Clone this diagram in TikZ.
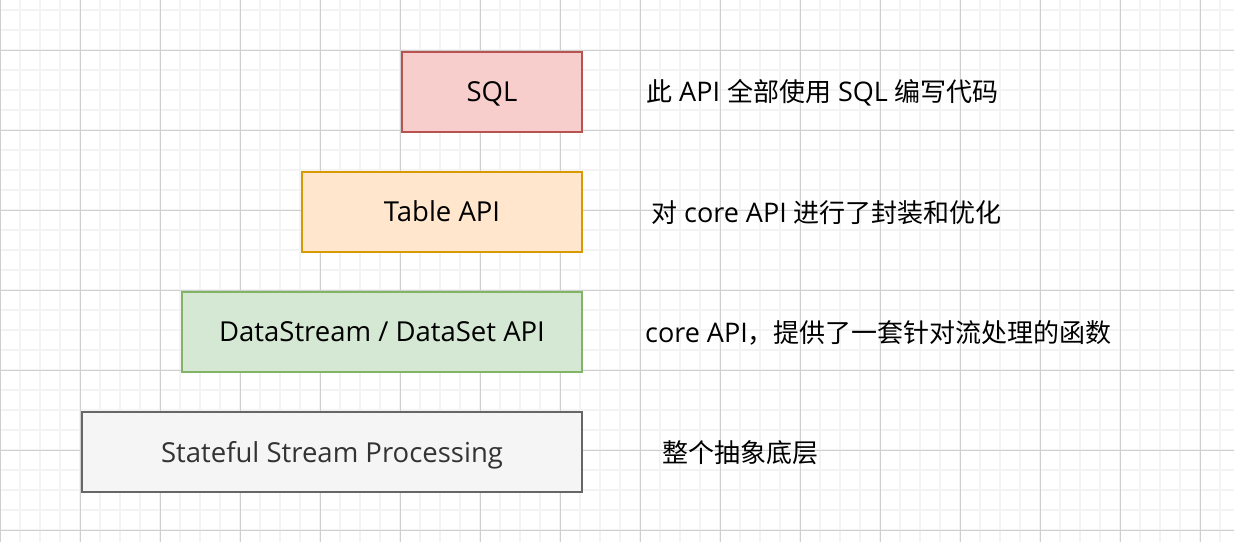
\documentclass[tikz,border=0pt]{standalone}
\usepackage{fontspec}
\setmainfont{Open Sans}
\newfontfamily\cjkfont{Noto Sans CJK SC}
\newcommand{\zh}[1]{{\fontsize{26}{30}\cjkfont #1}}
\definecolor{minorgrid}{HTML}{F3F3F3}
\definecolor{majorgrid}{HTML}{CFCFCF}
\definecolor{sqlfill}{HTML}{F8CECC}
\definecolor{sqldraw}{HTML}{B85450}
\definecolor{tabfill}{HTML}{FFE6CC}
\definecolor{tabdraw}{HTML}{D79B00}
\definecolor{dsfill}{HTML}{D5E8D4}
\definecolor{dsdraw}{HTML}{82B366}
\definecolor{stfill}{HTML}{F5F5F5}
\definecolor{stdraw}{HTML}{666666}
\definecolor{sttext}{HTML}{333333}
\begin{document}
\begin{tikzpicture}[x=1pt,y=-1pt,
  layerbox/.style={draw, line width=2pt, inner sep=0pt, anchor=north west,
    font=\fontsize{27.5}{30}\selectfont, text depth=1pt},
  sidetext/.style={anchor=west, inner sep=0pt, font=\fontsize{27}{30}\selectfont}]
\useasboundingbox (0,0) rectangle (1234,542);
\fill[white] (0,0) rectangle (1234,542);
% minor grid
\foreach \x in {0,20,...,1230} \draw[minorgrid, line width=2pt] (\x,0) -- (\x,542);
\foreach \y in {10,30,...,541} \draw[minorgrid, line width=2pt] (0,\y) -- (1234,\y);
% major grid
\foreach \x in {0,80,...,1230} \draw[majorgrid, line width=1pt] (\x,0) -- (\x,542);
\foreach \y in {50,130,...,541} \draw[majorgrid, line width=1pt] (0,\y) -- (1234,\y);
% boxes
\node[layerbox, fill=sqlfill, draw=sqldraw, minimum width=180pt, minimum height=80pt] (sql) at (401,51) {SQL};
\node[layerbox, fill=tabfill, draw=tabdraw, minimum width=280pt, minimum height=80pt] (table) at (301,171) {Table API};
\node[layerbox, fill=dsfill, draw=dsdraw, minimum width=400pt, minimum height=80pt] (ds) at (181,291) {DataStream / DataSet API};
\node[layerbox, fill=stfill, draw=stdraw, text=sttext, minimum width=500pt, minimum height=80pt] (st) at (81,411) {Stateful Stream Processing};
% side texts
\node[sidetext] (t1) at (646,93) {\zh{此} API \zh{全部使用} SQL \zh{编写代码}};
\node[sidetext] (t2) at (651,213) {\zh{对} core API \zh{进行了封装和优化}};
\node[sidetext] (t3) at (645,333) {core API\zh{，提供了一套针对流处理的函数}};
\node[sidetext] (t4) at (662,453) {\zh{整个抽象底层}};
\end{tikzpicture}
\end{document}
